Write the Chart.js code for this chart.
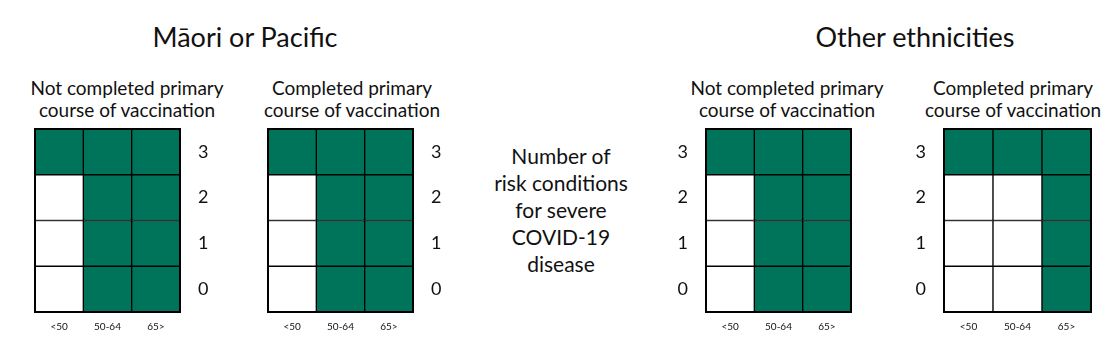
<!DOCTYPE html>
<html>
<head>
<meta charset="utf-8">
<script src="https://cdn.jsdelivr.net/npm/chart.js@4.4.1/dist/chart.umd.min.js"></script>
<style>
  html, body { margin: 0; padding: 0; background: #fff; }
  body { width: 1116px; height: 346px; position: relative; overflow: hidden; font-family: Lato, 'Open Sans', sans-serif; color: #111; }
  .txt { position: absolute; text-align: center; white-space: nowrap; }
  .title { font-size: 27px; line-height: 30px; }
  .sub { font-size: 19px; line-height: 22px; }
  .mid { font-size: 21px; line-height: 27px; }
  .box { position: absolute; }
</style>
</head>
<body>
<div class="txt title" style="left:135px;top:22px;width:220px">Māori or Pacific</div>
<div class="txt title" style="left:795px;top:22px;width:240px">Other ethnicities</div>

<div class="txt sub" style="left:17px;top:77px;width:220px">Not completed primary<br>course of vaccination</div>
<div class="txt sub" style="left:242px;top:77px;width:220px">Completed primary<br>course of vaccination</div>
<div class="txt sub" style="left:677px;top:77px;width:220px">Not completed primary<br>course of vaccination</div>
<div class="txt sub" style="left:903px;top:77px;width:220px">Completed primary<br>course of vaccination</div>

<div class="txt mid" style="left:481px;top:142px;width:160px">Number of<br>risk conditions<br>for severe<br>COVID-19<br>disease</div>

<div class="box" id="b1" style="left:25px;top:119px;width:205px;height:220px"><canvas id="c1"></canvas></div>
<div class="box" id="b2" style="left:258px;top:119px;width:205px;height:220px"><canvas id="c2"></canvas></div>
<div class="box" id="b3" style="left:656px;top:119px;width:205px;height:220px"><canvas id="c3"></canvas></div>
<div class="box" id="b4" style="left:894px;top:119px;width:207px;height:220px"><canvas id="c4"></canvas></div>

<script>
const ageGroups = ['<50', '50-64', '65>'];
const riskLevels = ['0', '1', '2', '3'];

// 1 = shaded cell, 0 = blank; one row per risk level (0..3), one entry per age group
const maoriNotCompleted = [
  [0, 1, 1],
  [0, 1, 1],
  [0, 1, 1],
  [1, 1, 1],
];
const maoriCompleted = [
  [0, 1, 1],
  [0, 1, 1],
  [0, 1, 1],
  [1, 1, 1],
];
const otherNotCompleted = [
  [0, 1, 1],
  [0, 1, 1],
  [0, 1, 1],
  [1, 1, 1],
];
const otherCompleted = [
  [0, 0, 1],
  [0, 0, 1],
  [0, 0, 1],
  [1, 1, 1],
];

const GREEN = '#00745b';

const frame = {
  id: 'frame',
  afterDatasetsDraw(chart) {
    const { ctx, chartArea: a } = chart;
    ctx.save();
    ctx.strokeStyle = '#000';
    ctx.lineWidth = 2;
    ctx.strokeRect(a.left, a.top, a.right - a.left, a.bottom - a.top);
    ctx.restore();
  }
};

function makeGrid(canvasId, rows, side) {
  const ctx = document.getElementById(canvasId).getContext('2d');
  return new Chart(ctx, {
    type: 'bar',
    data: {
      labels: ageGroups,
      datasets: rows.map((row, i) => ({
        label: riskLevels[i],
        data: row.map(() => 1),
        backgroundColor: row.map(v => v ? GREEN : '#ffffff'),
        borderColor: '#000',
        borderWidth: 1,
        borderSkipped: false,
        barPercentage: 1,
        categoryPercentage: 1,
      })),
    },
    options: {
      responsive: true,
      maintainAspectRatio: false,
      animation: false,
      layout: { padding: side === 'right' ? { left: 10, top: 10, right: 0, bottom: 0 } : { left: 0, top: 10, right: 10, bottom: 0 } },
      plugins: { legend: { display: false }, tooltip: { enabled: false } },
      scales: {
        x: {
          stacked: true,
          grid: { display: false, drawTicks: false },
          border: { display: false },
          ticks: { color: '#111', font: { family: 'Lato', size: 10 }, padding: 9 },
          afterFit: s => { s.height = 27; s.paddingLeft = 0; s.paddingRight = 0; },
        },
        y: {
          stacked: true,
          position: side,
          min: 0,
          max: riskLevels.length,
          grid: { display: false, drawTicks: false },
          border: { display: false },
          afterBuildTicks: s => { s.ticks = riskLevels.map((_, i) => ({ value: i + 0.5 })); },
          ticks: {
            color: '#111',
            font: { family: 'Lato', size: 18 },
            padding: 18,
            callback: v => riskLevels[Math.floor(v)],
          },
          afterFit: s => { s.width = 50; s.paddingTop = 0; s.paddingBottom = 0; },
        },
      },
    },
    plugins: [frame],
  });
}

makeGrid('c1', maoriNotCompleted, 'right');
makeGrid('c2', maoriCompleted, 'right');
makeGrid('c3', otherNotCompleted, 'left');
makeGrid('c4', otherCompleted, 'left');
</script>
</body>
</html>
